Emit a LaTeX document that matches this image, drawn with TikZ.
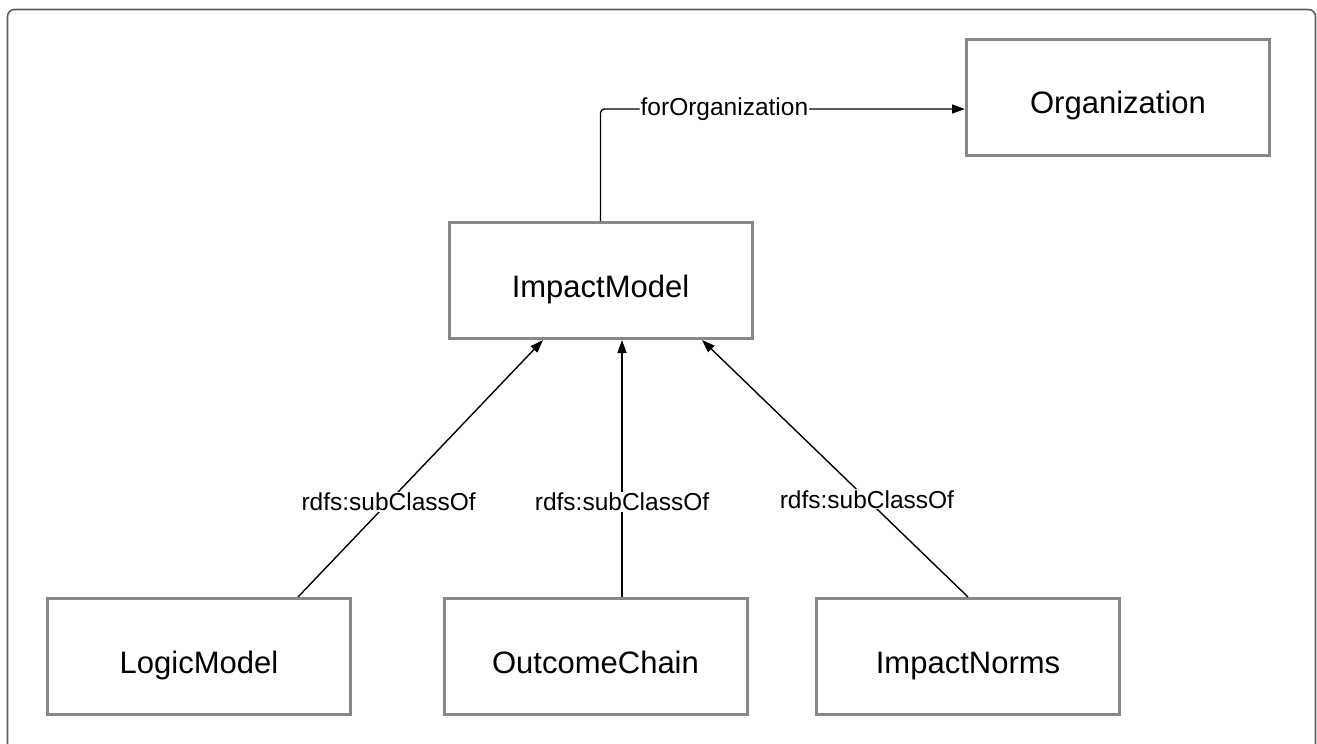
\documentclass[tikz,border=0pt]{standalone}
\usepackage{fontspec}
\setmainfont{Liberation Sans}
\usetikzlibrary{arrows.meta}
\definecolor{boxline}{HTML}{888888}
\definecolor{frameline}{HTML}{5E5E5E}
\begin{document}
\begin{tikzpicture}[x=1pt,y=-1pt,
  classbox/.style={draw=boxline, line width=3pt, fill=white,
    minimum width=303pt, minimum height=116pt, inner sep=0pt,
    text height=33pt, text depth=0pt,
    font=\fontsize{31}{36}\selectfont},
  link/.style={draw=black, line width=1.4pt,
    -{Triangle[length=13pt,width=9pt]}},
  linklabel/.style={fill=white, inner sep=1pt, text=black,
    font=\fontsize{24.5}{29}\selectfont}]
  \useasboundingbox (0,0) rectangle (1317,744);
  % outer frame, running past the lower edge
  \draw[frameline, line width=1.6pt, rounded corners=7pt]
    (7.5,9.5) rectangle (1315.5,770);

  % classes
  \node[classbox] (org) at (1118,97)   {Organization};
  \node[classbox] (im)  at (600.5,280.5) {ImpactModel};
  \node[classbox] (lm)  at (199,656.5)  {LogicModel};
  \node[classbox] (oc)  at (595.5,656.5) {OutcomeChain};
  \node[classbox] (in)  at (968,656.5)  {ImpactNorms};

  % property link
  \draw[link, rounded corners=4pt] (im.north) |- ([yshift=-12pt]org.west)
    node[linklabel, pos=0.67] {forOrganization};

  % subclass links
  \draw[link] ([xshift=99pt]lm.north) -- ([xshift=-57.5pt]im.south)
    node[linklabel, pos=0.37] {rdfs:subClassOf};
  \draw[link] ([xshift=26.5pt]oc.north) -- ([xshift=21.5pt]im.south)
    node[linklabel, pos=0.37] {rdfs:subClassOf};
  \draw[link] (in.north) -- ([xshift=101.5pt]im.south)
    node[linklabel, pos=0.38] {rdfs:subClassOf};
\end{tikzpicture}
\end{document}
